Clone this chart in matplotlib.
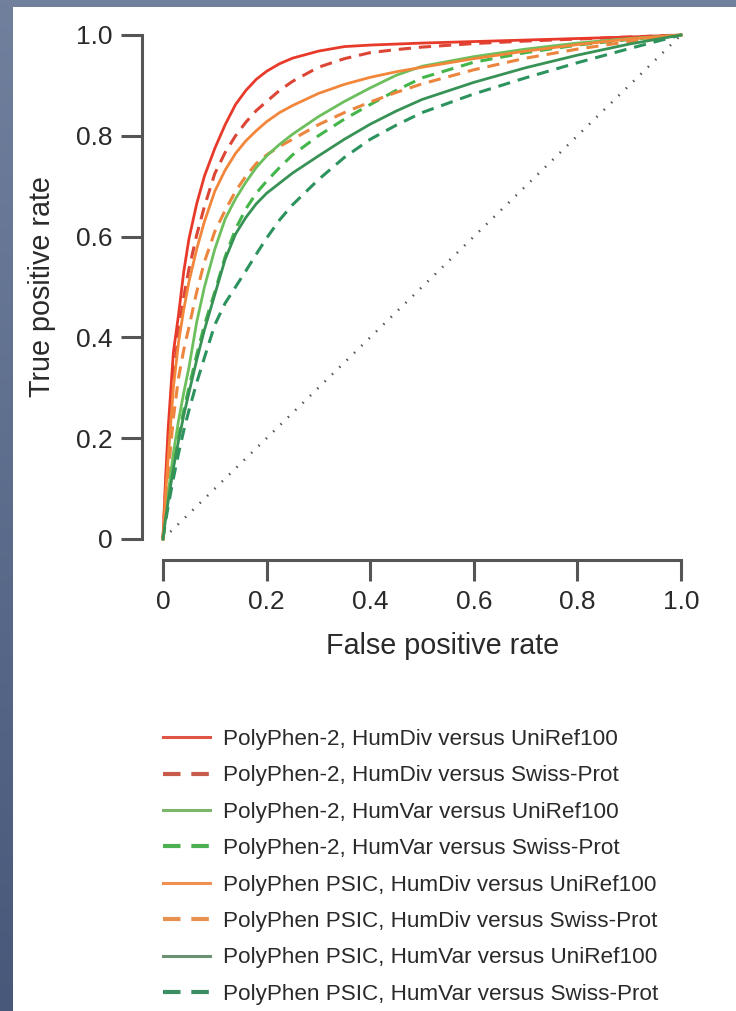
import matplotlib
matplotlib.use("Agg")
import matplotlib.pyplot as plt
import numpy as np
from matplotlib.lines import Line2D
from matplotlib.patches import Rectangle

plt.rcParams['font.family'] = ['Liberation Sans', 'DejaVu Sans']

# ---------------- data ----------------
fpr = [0, 0.005, 0.01, 0.02, 0.03, 0.04, 0.05, 0.065, 0.08, 0.1, 0.12, 0.14, 0.16,
       0.18, 0.2, 0.225, 0.25, 0.3, 0.35, 0.4, 0.45, 0.5, 0.6, 0.7, 0.8, 0.9, 1.0]

tpr_pp2_humdiv_uniref = [0, 0.12, 0.22, 0.37, 0.445, 0.53, 0.595, 0.665, 0.72, 0.775,
                         0.822, 0.862, 0.89, 0.912, 0.928, 0.943, 0.954, 0.968, 0.977,
                         0.98, 0.982, 0.984, 0.987, 0.99, 0.993, 0.996, 1.0]
tpr_pp2_humdiv_swiss = [0, 0.10, 0.19, 0.32, 0.41, 0.48, 0.535, 0.603, 0.66, 0.725,
                        0.767, 0.80, 0.827, 0.85, 0.868, 0.89, 0.908, 0.936, 0.953,
                        0.965, 0.971, 0.976, 0.983, 0.988, 0.992, 0.996, 1.0]
tpr_pp2_humvar_uniref = [0, 0.05, 0.09, 0.17, 0.235, 0.29, 0.34, 0.43, 0.50, 0.575,
                         0.635, 0.675, 0.708, 0.737, 0.76, 0.783, 0.803, 0.838, 0.868,
                         0.895, 0.92, 0.938, 0.957, 0.972, 0.984, 0.993, 1.0]
tpr_pp2_humvar_swiss = [0, 0.045, 0.08, 0.15, 0.205, 0.255, 0.30, 0.365, 0.425, 0.49,
                        0.56, 0.615, 0.655, 0.686, 0.71, 0.737, 0.762, 0.80, 0.833,
                        0.862, 0.89, 0.915, 0.946, 0.965, 0.98, 0.991, 1.0]
tpr_psic_humdiv_uniref = [0, 0.09, 0.16, 0.30, 0.39, 0.455, 0.51, 0.575, 0.63, 0.69,
                          0.732, 0.765, 0.79, 0.81, 0.828, 0.846, 0.86, 0.884, 0.902,
                          0.916, 0.927, 0.936, 0.953, 0.968, 0.981, 0.992, 1.0]
tpr_psic_humdiv_swiss = [0, 0.07, 0.13, 0.24, 0.32, 0.375, 0.42, 0.49, 0.55, 0.61,
                         0.652, 0.69, 0.72, 0.745, 0.762, 0.779, 0.793, 0.822, 0.846,
                         0.867, 0.886, 0.903, 0.931, 0.954, 0.972, 0.987, 1.0]
tpr_psic_humvar_uniref = [0, 0.04, 0.075, 0.14, 0.195, 0.245, 0.29, 0.355, 0.415, 0.485,
                          0.555, 0.605, 0.638, 0.665, 0.686, 0.706, 0.726, 0.76, 0.793,
                          0.823, 0.849, 0.872, 0.906, 0.935, 0.96, 0.982, 1.0]
tpr_psic_humvar_swiss = [0, 0.035, 0.065, 0.12, 0.17, 0.215, 0.255, 0.31, 0.36, 0.425,
                         0.468, 0.50, 0.532, 0.565, 0.597, 0.633, 0.663, 0.713, 0.757,
                         0.793, 0.821, 0.846, 0.883, 0.915, 0.945, 0.973, 1.0]

labels = [
    "PolyPhen-2, HumDiv versus UniRef100",
    "PolyPhen-2, HumDiv versus Swiss-Prot",
    "PolyPhen-2, HumVar versus UniRef100",
    "PolyPhen-2, HumVar versus Swiss-Prot",
    "PolyPhen PSIC, HumDiv versus UniRef100",
    "PolyPhen PSIC, HumDiv versus Swiss-Prot",
    "PolyPhen PSIC, HumVar versus UniRef100",
    "PolyPhen PSIC, HumVar versus Swiss-Prot",
]
series = [tpr_pp2_humdiv_uniref, tpr_pp2_humdiv_swiss, tpr_pp2_humvar_uniref,
          tpr_pp2_humvar_swiss, tpr_psic_humdiv_uniref, tpr_psic_humdiv_swiss,
          tpr_psic_humvar_uniref, tpr_psic_humvar_swiss]
colors = ['#e83a2a', '#dc4636', '#6cbf5c', '#43b54a',
          '#f2863a', '#ec863e', '#389256', '#2d935e']
legend_colors = ['#e05545', '#c85a4c', '#7cb56c', '#4cb050',
                 '#f09050', '#e89050', '#6a9272', '#3a8f62']
dashed = [False, True, False, True, False, True, False, True]

xticks = [0, 0.2, 0.4, 0.6, 0.8, 1.0]
xticklabels = ['0', '0.2', '0.4', '0.6', '0.8', '1.0']
yticks = [0, 0.2, 0.4, 0.6, 0.8, 1.0]
yticklabels = ['0', '0.2', '0.4', '0.6', '0.8', '1.0']

# ---------------- figure ----------------
W, H = 736, 1011
fig = plt.figure(figsize=(W / 100, H / 100), dpi=100)

bg = fig.add_axes([0, 0, 1, 1], zorder=-10)
grad = np.linspace(0, 1, 256).reshape(-1, 1)
top_c = np.array([0x70, 0x80, 0x9d]) / 255
bot_c = np.array([0x48, 0x58, 0x7a]) / 255
img = top_c[None, None, :] * (1 - grad[:, :, None]) + bot_c[None, None, :] * grad[:, :, None]
bg.imshow(img, extent=[0, 1, 0, 1], aspect='auto', origin='upper')
bg.add_patch(Rectangle((13 / W, 0), 1, 1 - 7 / H, facecolor='white', edgecolor='none'))
bg.set_xlim(0, 1)
bg.set_ylim(0, 1)
bg.axis('off')

ax = fig.add_axes([163 / W, (H - 539) / H, 518 / W, 504 / H])
ax.patch.set_visible(False)
ax.set_xlim(0, 1)
ax.set_ylim(0, 1)

ax.plot([0, 1], [0, 1], color='#555555', lw=1.8, linestyle=(0, (0.6, 3.5)),
        clip_on=False, zorder=1)

for tpr, c, d in zip(series, colors, dashed):
    if d:
        ax.plot(fpr, tpr, color=c, lw=2.2, linestyle=(0, (4.0, 2.6)),
                clip_on=False, zorder=2)
    else:
        ax.plot(fpr, tpr, color=c, lw=2.0, clip_on=False, zorder=3)

spine_c = '#555555'
for s in ['top', 'right']:
    ax.spines[s].set_visible(False)
for s in ['left', 'bottom']:
    ax.spines[s].set_position(('outward', 15))
    ax.spines[s].set_bounds(0, 1)
    ax.spines[s].set_linewidth(2.2)
    ax.spines[s].set_color(spine_c)

ax.set_xticks(xticks)
ax.set_xticklabels(xticklabels)
ax.set_yticks(yticks)
ax.set_yticklabels(yticklabels)
ax.tick_params(axis='both', direction='out', length=15, width=2.2, color=spine_c,
               labelsize=19, labelcolor='#2a2a2a')
ax.tick_params(axis='y', pad=6)
ax.tick_params(axis='x', pad=7)

ax.set_xlabel('False positive rate', fontsize=20.7, color='#2a2a2a')
ax.set_ylabel('True positive rate', fontsize=20.7, color='#2a2a2a')
ax.xaxis.set_label_coords(0.54, -0.184)
ax.yaxis.set_label_coords(-0.206, 0.5)

handles = []
for c, d in zip(legend_colors, dashed):
    if d:
        handles.append(Line2D([], [], color=c, lw=3, linestyle=(0, (4.2, 2.6))))
    else:
        handles.append(Line2D([], [], color=c, lw=2.2))

fig.legend(handles, labels, loc='upper left', bbox_to_anchor=(163 / W, 1 - 729 / H),
           frameon=False, fontsize=16.2, handlelength=2.1, handletextpad=0.55,
           labelspacing=0.685, borderaxespad=0, borderpad=0, labelcolor='#2a2a2a')

fig.savefig('out.png', dpi=100)
